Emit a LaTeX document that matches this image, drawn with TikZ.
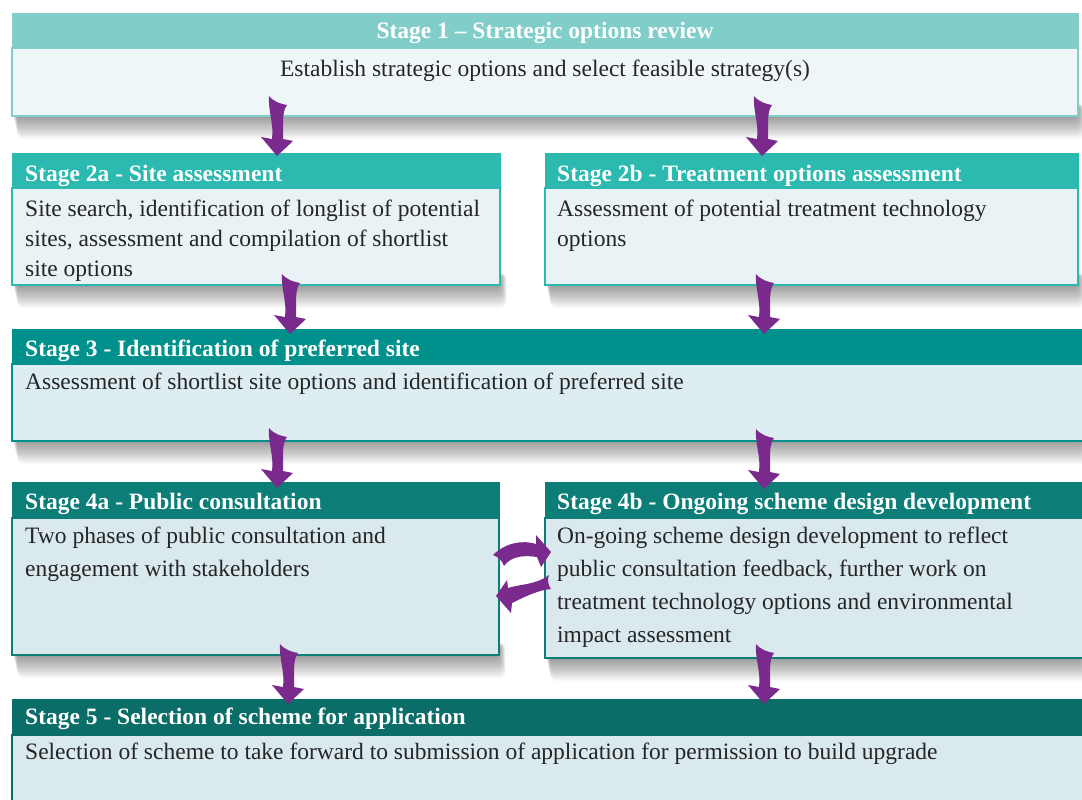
\documentclass[tikz,border=0pt]{standalone}
\usepackage{fontspec}
\setmainfont{Liberation Serif}
\usetikzlibrary{calc}
\definecolor{hA}{HTML}{80CDC9}
\definecolor{bA}{HTML}{EFF6F7}
\definecolor{hB}{HTML}{2CB9AF}
\definecolor{bB}{HTML}{E9F3F5}
\definecolor{hC}{HTML}{00918C}
\definecolor{bC}{HTML}{DEEDF1}
\definecolor{hD}{HTML}{0C7E77}
\definecolor{bD}{HTML}{D9E9EE}
\definecolor{hE}{HTML}{0A6D68}
\definecolor{bE}{HTML}{D9E9EE}
\definecolor{arrowpurple}{HTML}{7A2A8C}
\definecolor{bodyink}{HTML}{262626}
\newcommand\undershadow[4]{%
  \foreach \k in {1,...,22}{%
    \fill[black,opacity=0.02,rounded corners=6pt] (#1+\k*0.25,#4-12) rectangle (#3+\k*0.3,#4+\k*1.05);}%
}
\tikzset{
  hbox/.style={rectangle, inner sep=0pt, outer sep=0pt, anchor=north west, fill=#1, draw=#1, line width=1pt},
  bbox/.style 2 args={rectangle, inner sep=0pt, outer sep=0pt, anchor=north west, fill=#2, draw=#1, line width=2pt},
  htxt/.style={font=\bfseries\fontsize{23.5}{28}\selectfont, text=white, inner sep=0pt},
  btxt/.style={font=\fontsize{23.5}{#1}\selectfont, text=bodyink, inner sep=0pt, align=left},
  btxt/.default=30,
  arr/.style={fill=arrowpurple},
  wavy/.pic={\fill[arr] (0,0) -- (-16,-19) -- (-5,-17) .. controls (-3,-32) and (-9,-45) .. (-8,-60)
     .. controls (-3,-54) and (4,-52) .. (10,-51) .. controls (4,-43) and (7,-30) .. (6,-17)
     -- (16,-15) -- cycle;}
}
\begin{document}
\begin{tikzpicture}[x=1pt,y=-1pt]
\useasboundingbox[fill=white] (0,0) rectangle (1082,800);
% shadows
\undershadow{12}{14}{1078}{116}
\undershadow{12}{153}{500}{285}
\undershadow{545}{153}{1078}{285}
\undershadow{12}{329}{1082}{441}
\undershadow{12}{482}{499}{655}
\undershadow{545}{482}{1082}{658}
% Stage 1
\node[bbox={hA}{bA}, minimum width=1066pt, minimum height=68pt] (s1b) at (12,48) {};
\node[hbox=hA, minimum width=1066pt, minimum height=34pt] (s1h) at (12,14) {};
\node[htxt, anchor=base] (s1ht) at (545,39) {Stage 1 – Strategic options review};
\node[btxt, anchor=base] (s1bt) at (545,77) {Establish strategic options and select feasible strategy(s)};
% Stage 2a
\node[bbox={hB}{bB}, minimum width=488pt, minimum height=97pt] (s2ab) at (12,188) {};
\node[hbox=hB, minimum width=488pt, minimum height=35pt] (s2ah) at (12,153) {};
\node[htxt, anchor=base west] (s2aht) at (25,181) {Stage 2a - Site assessment};
\node[btxt=30, anchor=north west] (s2abt) at (25,198) {\rule{0pt}{18pt}Site search, identification of longlist of potential\\sites, assessment and compilation of shortlist\\site options};
% Stage 2b
\node[bbox={hB}{bB}, minimum width=533pt, minimum height=97pt] (s2bb) at (545,188) {};
\node[hbox=hB, minimum width=533pt, minimum height=35pt] (s2bh) at (545,153) {};
\node[htxt, anchor=base west] (s2bht) at (557,181) {Stage 2b - Treatment options assessment};
\node[btxt=30, anchor=north west] (s2bbt) at (557,198) {\rule{0pt}{18pt}Assessment of potential treatment technology\\options};
% Stage 3
\node[bbox={hC}{bC}, minimum width=1072pt, minimum height=77pt] (s3b) at (12,364) {};
\node[hbox=hC, minimum width=1072pt, minimum height=35pt] (s3h) at (12,329) {};
\node[htxt, anchor=base west] (s3ht) at (25,356) {Stage 3 - Identification of preferred site};
\node[btxt, anchor=base west] (s3bt) at (25,389) {Assessment of shortlist site options and identification of preferred site};
% Stage 4a
\node[bbox={hD}{bD}, minimum width=487pt, minimum height=137pt] (s4ab) at (12,518) {};
\node[hbox=hD, minimum width=487pt, minimum height=36pt] (s4ah) at (12,482) {};
\node[htxt, anchor=base west] (s4aht) at (25,509) {Stage 4a - Public consultation};
\node[btxt=33, anchor=north west] (s4abt) at (25,525) {\rule{0pt}{18pt}Two phases of public consultation and\\engagement with stakeholders};
% Stage 4b
\node[bbox={hD}{bD}, minimum width=539pt, minimum height=140pt] (s4bb) at (545,518) {};
\node[hbox=hD, minimum width=539pt, minimum height=36pt] (s4bh) at (545,482) {};
\node[htxt, anchor=base west] (s4bht) at (557,509) {Stage 4b - Ongoing scheme design development};
\node[btxt=33, anchor=north west] (s4bbt) at (557,525) {\rule{0pt}{18pt}On-going scheme design development to reflect\\public consultation feedback, further work on\\treatment technology options and environmental\\impact assessment};
% Stage 5
\node[bbox={hE}{bE}, minimum width=1072pt, minimum height=66pt] (s5b) at (12,735) {};
\node[hbox=hE, minimum width=1072pt, minimum height=36pt] (s5h) at (12,699) {};
\node[htxt, anchor=base west] (s5ht) at (25,724) {Stage 5 - Selection of scheme for application};
\node[btxt, anchor=base west] (s5bt) at (25,759) {Selection of scheme to take forward to submission of application for permission to build upgrade};
% wavy arrows
\pic at ($(s2ah.north west)+(265,3)$) {wavy};
\pic at ($(s2bh.north west)+(217,3)$) {wavy};
\pic at ($(s3h.north west)+(278,5)$) {wavy};
\pic at ($(s3h.north west)+(752,5)$) {wavy};
\pic at ($(s4ah.north west)+(265,6)$) {wavy};
\pic at ($(s4bh.north west)+(219,7)$) {wavy};
\pic at ($(s5h.north west)+(276,5)$) {wavy};
\pic at ($(s5h.north west)+(752,5)$) {wavy};
% cycle arrows between 4a and 4b
\coordinate (cyc1) at ($(s4bb.north west)+(6,34)$);
\coordinate (cyc2) at ($(s4ab.north east)+(-3,78)$);
\fill[arr] (cyc1) -- ++(-15,-17) -- ++(0,9) .. controls +(-12,-4) and +(13,-13) .. ++(-43,11)
   .. controls +(5,2) and +(-2,-6) .. ++(11,11) .. controls +(7,-10) and +(-13,-2) .. ++(33,-9)
   -- ++(4,10) -- cycle;
\fill[arr] (cyc2) -- ++(11,-16) -- ++(1,8) .. controls +(12,-4) and +(-13,10) .. ++(41,-13)
   .. controls +(-2,4) and +(-3,-4) .. ++(2,14) .. controls +(-12,1) and +(14,-7) .. ++(-39,14)
   -- ++(-1,10) -- cycle;
\end{tikzpicture}
\end{document}
